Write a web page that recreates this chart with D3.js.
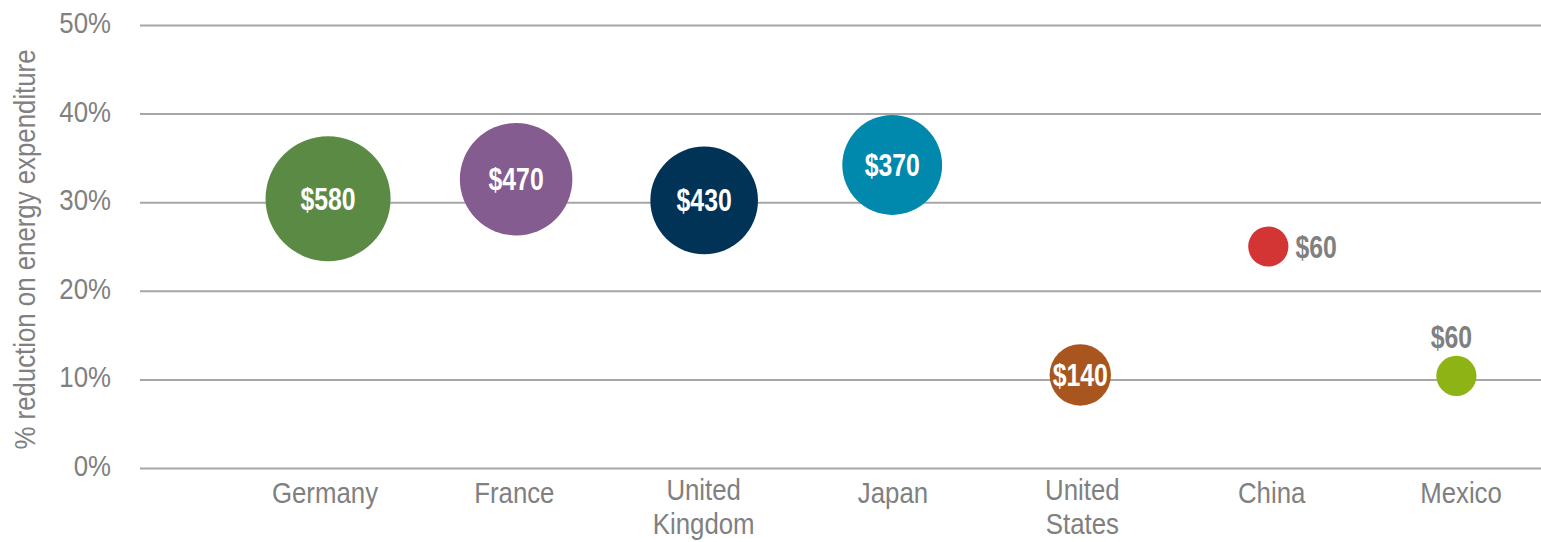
<!DOCTYPE html>
<html>
<head>
<meta charset="utf-8">
<script src="https://cdn.jsdelivr.net/npm/d3@7"></script>
<style>
  html, body { margin: 0; padding: 0; background: #fff; }
  svg { display: block; }
  text { font-family: 'Liberation Sans', Arial, sans-serif; }
</style>
</head>
<body>
<svg id="chart" width="1541" height="542"></svg>
<script>
// ---- data ----
const countries = ["Germany", "France", "United Kingdom", "Japan", "United States", "China", "Mexico"];
const reductionPct = [30.4, 32.6, 30.2, 34.2, 10.5, 25.0, 10.4];
const savingsUSD = [580, 470, 430, 370, 140, 60, 60];
const bubbleColors = ["#5B8A45", "#845C8F", "#003356", "#0089AD", "#A9561E", "#D33535", "#8DB414"];
const labelPlacement = ["center", "center", "center", "center", "center", "right", "above"];
const yTicks = [0, 10, 20, 30, 40, 50];
const yTitle = "% reduction on energy expenditure";

// ---- layout ----
const plot = { left: 140, right: 1541, top: 25, bottom: 468 };
const svg = d3.select("#chart");
const gray = "#808080";
const SX = 0.89;      // horizontal condensing for regular text (narrow font look)
const SXB = 0.8;      // condensing for bold value labels

const x = d3.scaleLinear().domain([0, 7.45]).range([plot.left, plot.right]);
const xLabel = d3.scaleLinear().domain([1, 7]).range([325, 1461]);
const y = d3.scaleLinear().domain([0, 50]).range([plot.bottom, plot.top]);
const r = d3.scaleSqrt().domain([0, 580]).range([0, 62.5]);

function narrow(parent, tx, ty, sx, rot) {
  return parent.append("g")
    .attr("transform", `translate(${tx},${ty})` + (rot ? ` rotate(${rot})` : "") + ` scale(${sx},1)`)
    .append("text");
}

// gridlines via axis
const yAxis = d3.axisLeft(y).tickValues(yTicks).tickSize(-(plot.right - plot.left)).tickFormat("");
const gy = svg.append("g").attr("transform", `translate(${plot.left},0)`).call(yAxis);
gy.select(".domain").remove();
gy.selectAll(".tick line").attr("stroke", "#A6A6A6").attr("stroke-width", 2);

// tick labels
yTicks.forEach(t => {
  narrow(svg, 111, y(t) + 8, SX)
    .attr("text-anchor", "end")
    .attr("fill", gray)
    .attr("font-size", 29)
    .text(t + "%");
});

// y title
narrow(svg, 35, (plot.top + plot.bottom) / 2 + 3, SX, -90)
  .attr("text-anchor", "middle")
  .attr("fill", gray)
  .attr("font-size", 29)
  .text(yTitle);

// category labels
countries.forEach((c, i) => {
  const words = c.split(" ");
  const t = narrow(svg, xLabel(i + 1), words.length > 1 ? 500 : 503, SX)
    .attr("text-anchor", "middle")
    .attr("fill", gray)
    .attr("font-size", 29);
  words.forEach((w, j) => {
    t.append("tspan").attr("x", 0).attr("dy", j === 0 ? 0 : 34).text(w);
  });
});

// bubbles
const bubbles = svg.append("g");
countries.forEach((c, i) => {
  const cx = x(i + 1), cy = y(reductionPct[i]), rad = r(savingsUSD[i]);
  bubbles.append("circle")
    .attr("cx", cx).attr("cy", cy).attr("r", rad)
    .attr("fill", bubbleColors[i]);
  let lx, ly, anchor, fill;
  if (labelPlacement[i] === "center") {
    lx = cx; ly = cy + 11; anchor = "middle"; fill = "#fff";
  } else if (labelPlacement[i] === "right") {
    lx = cx + rad + 7; ly = cy + 11; anchor = "start"; fill = gray;
  } else {
    lx = cx - 5; ly = cy - rad - 8; anchor = "middle"; fill = gray;
  }
  narrow(bubbles, lx, ly, SXB)
    .attr("text-anchor", anchor)
    .attr("fill", fill)
    .attr("font-size", 31)
    .attr("font-weight", "bold")
    .text("$" + savingsUSD[i]);
});
</script>
</body>
</html>
